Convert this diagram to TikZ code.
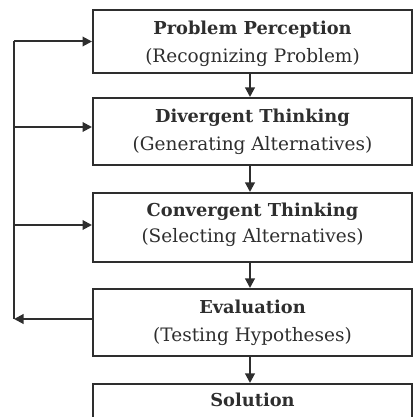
\documentclass[tikz,border=0pt]{standalone}
\usepackage{fontspec}
\setmainfont{DejaVu Serif}
\usetikzlibrary{arrows.meta}
\definecolor{ink}{HTML}{2E2E2E}
\tikzset{
  box/.style={draw=ink, line width=2pt, minimum width=319pt, inner sep=0pt},
  ttl/.style={anchor=base, inner sep=0pt, text=ink, font=\fontsize{17.8}{20}\selectfont\bfseries},
  sub/.style={anchor=base, inner sep=0pt, text=ink, font=\fontsize{18.5}{20}\selectfont},
  flow/.style={draw=ink, line width=2pt, -{Triangle[length=9.5pt,width=9.5pt]}},
  plain/.style={draw=ink, line width=2pt}
}
\begin{document}
\begin{tikzpicture}[x=1pt,y=1pt]
\useasboundingbox (0,0) rectangle (414,417);
\clip (0,0) rectangle (414,417);
\node[box, minimum height=63pt] (b1) at (252.5,375.5) {};
\node[box, minimum height=67pt] (b2) at (252.5,285.5) {};
\node[box, minimum height=69pt] (b3) at (252.5,189.5) {};
\node[box, minimum height=67pt] (b4) at (252.5,94.5) {};
\node[box, minimum height=44pt, anchor=north] (b5) at (252.5,34) {};
\node[ttl] (t1) at ([yshift=-25.5pt]b1.north) {Problem Perception};
\node[sub] (s1) at ([yshift=-53.5pt]b1.north) {(Recognizing Problem)};
\node[ttl] (t2) at ([yshift=-26pt]b2.north) {Divergent Thinking};
\node[sub] (s2) at ([yshift=-54pt]b2.north) {(Generating Alternatives)};
\node[ttl] (t3) at ([yshift=-24.5pt]b3.north) {Convergent Thinking};
\node[sub] (s3) at ([yshift=-51pt]b3.north) {(Selecting Alternatives)};
\node[ttl] (t4) at ([yshift=-26pt]b4.north) {Evaluation};
\node[sub] (s4) at ([yshift=-54pt]b4.north) {(Testing Hypotheses)};
\node[ttl] (t5) at ([yshift=-24pt]b5.north) {Solution};
\coordinate (ax) at (250,0);
\coordinate (L) at (14,0);
\coordinate (c1) at (L |- b1.west);
\coordinate (c4) at ([yshift=3.5pt]b4.west -| L);
\draw[flow] (b1.south -| ax) -- (b2.north -| ax);
\draw[flow] (b2.south -| ax) -- (b3.north -| ax);
\draw[flow] (b3.south -| ax) -- (b4.north -| ax);
\draw[flow] (b4.south -| ax) -- (b5.north -| ax);
\draw[plain] (c1) -- (c4);
\draw[flow] (c1) -- (b1.west);
\draw[flow] ([yshift=4.5pt]b2.west -| L) -- ([yshift=4.5pt]b2.west);
\draw[flow] ([yshift=2.5pt]b3.west -| L) -- ([yshift=2.5pt]b3.west);
\draw[flow] ([yshift=3.5pt]b4.west) -- (c4);
\end{tikzpicture}
\end{document}
